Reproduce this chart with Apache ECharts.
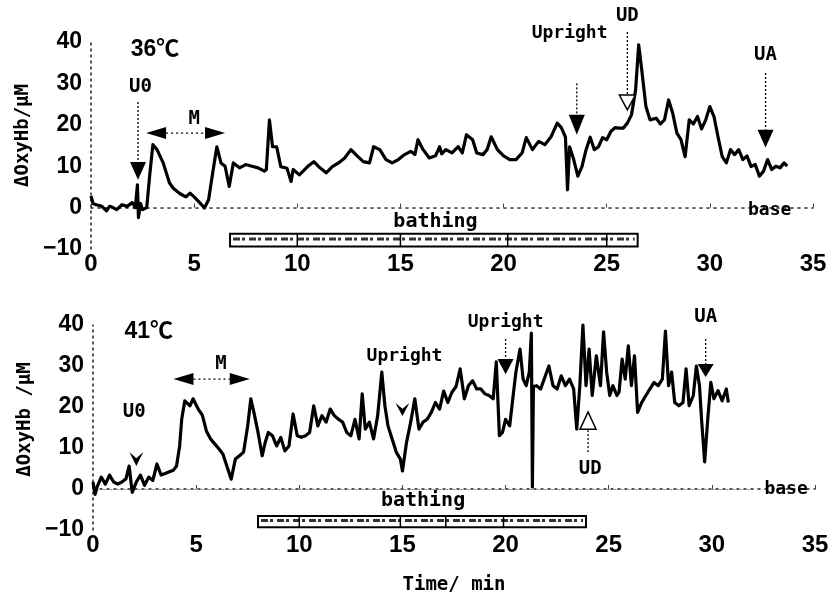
<!DOCTYPE html>
<html>
<head>
<meta charset="utf-8">
<script src="https://cdn.jsdelivr.net/npm/echarts@6/dist/echarts.min.js"></script>
<style>
  html, body { margin: 0; padding: 0; background: #fff; }
  #main { width: 834px; height: 605px; }
</style>
</head>
<body>
<div id="main"></div>
<script>
// time (min) and ΔOxyHb (μM)
const time36 = [0, 0.1, 0.25, 0.5, 0.75, 0.9, 1.0, 1.25, 1.5, 1.75, 2.0, 2.15, 2.25, 2.3, 2.4, 2.5, 2.7, 2.85, 3.0, 3.2,
  3.5, 3.8, 4.0, 4.3, 4.6, 4.8, 5.0, 5.3, 5.5, 5.7, 5.9, 6.1, 6.3, 6.5, 6.7, 6.9, 7.2, 7.5, 7.8, 8.1,
  8.4, 8.5, 8.65, 8.8, 9.0, 9.2, 9.5, 9.7, 9.8, 10.1, 10.5, 10.8, 11.1, 11.4, 11.7, 12.0, 12.3, 12.6, 12.9, 13.2,
  13.5, 13.7, 14.0, 14.3, 14.6, 14.9, 15.2, 15.5, 15.7, 15.85, 16.1, 16.4, 16.7, 16.9, 17.0, 17.2, 17.5, 17.8, 18.0, 18.2,
  18.5, 18.7, 19.0, 19.2, 19.4, 19.7, 20.0, 20.3, 20.6, 20.9, 21.1, 21.4, 21.7, 22.0, 22.3, 22.6, 22.8, 23.0, 23.1, 23.2,
  23.4, 23.6, 23.8, 24.0, 24.2, 24.4, 24.6, 24.8, 25.0, 25.2, 25.4, 25.6, 25.8, 26.0, 26.2, 26.4, 26.55, 26.7, 26.9, 27.1,
  27.4, 27.6, 27.8, 28.0, 28.2, 28.4, 28.6, 28.8, 29.0, 29.2, 29.4, 29.6, 29.8, 30.0, 30.2, 30.4, 30.6, 30.8, 31.0, 31.2,
  31.4, 31.6, 31.8, 32.0, 32.2, 32.4, 32.6, 32.8, 33.0, 33.2, 33.4, 33.6, 33.75];
const oxy36 = [2.8, 1.0, 0.7, 0.4, -0.8, 0.3, 0.2, -0.5, 0.7, 0.3, 1.2, 0.0, 5.5, -2.4, 1.0, -0.5, 0, 8, 15.2, 14,
  10.8, 6, 4.6, 3.4, 2.6, 3.5, 2.6, 1.0, -0.1, 1.9, 8.4, 14.7, 10.8, 10, 5.1, 10.8, 9.6, 10.4, 10, 9.6,
  8.8, 9.2, 21.2, 14.7, 14.7, 9.9, 9.5, 6.3, 9.2, 7.9, 9.9, 11.1, 9.6, 8.4, 9.9, 10.8, 12, 14, 12.5, 11.1,
  10.8, 14.7, 14, 11.6, 10.8, 11.6, 12.8, 13.6, 12.8, 16.4, 14, 12, 12.5, 14.7, 13, 14, 13.2, 14.7, 13.2, 17.6,
  16.4, 13.2, 12.8, 14, 17.1, 14, 12.5, 11.6, 11.6, 13.2, 16.9, 14, 16, 15.2, 17.1, 20.4, 19.3, 17, 4.3, 14.7,
  11.6, 7.6, 9.9, 14, 17, 14, 14.7, 16.9, 16.4, 18.4, 19.3, 19.2, 19.2, 20.4, 22.4, 28.4, 39.3, 33.2, 24.4, 21.2,
  21.6, 20.2, 21.2, 26, 22.8, 18, 16.4, 12.3, 21.2, 20.2, 22, 19, 21.2, 24.4, 22, 17, 12.3, 10.8, 14, 12.8,
  14, 11.6, 12.5, 9.9, 10.4, 7.6, 8.8, 11.6, 9.2, 10, 9.6, 10.8, 10];

const time41 = [0, 0.1, 0.2, 0.4, 0.6, 0.8, 1.0, 1.2, 1.4, 1.6, 1.75, 1.9, 2.1, 2.3, 2.5, 2.7, 2.9, 3.1, 3.3, 3.5,
  3.7, 3.9, 4.05, 4.2, 4.3, 4.45, 4.7, 4.85, 5.1, 5.3, 5.5, 5.7, 5.9, 6.1, 6.3, 6.5, 6.7, 6.9, 7.1, 7.3,
  7.5, 7.65, 7.8, 8.0, 8.2, 8.35, 8.5, 8.7, 8.9, 9.1, 9.3, 9.5, 9.7, 9.9, 10.1, 10.3, 10.5, 10.7, 10.9, 11.1,
  11.3, 11.5, 11.7, 11.9, 12.1, 12.3, 12.5, 12.7, 12.9, 13.05, 13.2, 13.4, 13.6, 13.8, 14.0, 14.15, 14.3, 14.5, 14.7, 14.9,
  15.0, 15.2, 15.4, 15.6, 15.8, 16.0, 16.2, 16.4, 16.6, 16.8, 17.0, 17.2, 17.4, 17.6, 17.8, 18.0, 18.2, 18.4, 18.6, 18.8,
  19.0, 19.2, 19.4, 19.55, 19.7, 19.85, 20.0, 20.2, 20.35, 20.5, 20.7, 20.85, 21.0, 21.15, 21.25, 21.3, 21.35, 21.5, 21.7, 21.9,
  22.1, 22.3, 22.5, 22.7, 22.9, 23.1, 23.3, 23.45, 23.6, 23.75, 23.9, 24.05, 24.2, 24.4, 24.6, 24.75, 24.9, 25.05, 25.2, 25.4,
  25.5, 25.65, 25.8, 25.95, 26.1, 26.25, 26.4, 26.6, 26.8, 27.0, 27.2, 27.4, 27.6, 27.75, 27.9, 28.05, 28.2, 28.4, 28.6, 28.75,
  28.9, 29.1, 29.25, 29.4, 29.5, 29.65, 29.8, 29.95, 30.1, 30.3, 30.5, 30.7, 30.8];
const oxy41 = [1.7, -1.3, 0.5, 2.9, 1.2, 3.4, 1.7, 1.2, 1.7, 2.5, 5.6, -0.8, 1.7, 3.4, 0.9, 2.9, 2.1, 6.1, 3.4, 3.8,
  4.2, 4.6, 5.6, 10.5, 17, 21.5, 20.3, 22, 19.5, 18, 14.1, 12.2, 11, 9.8, 8.5, 5.4, 2.4, 7.3, 8.1, 9,
  15.4, 22, 18.7, 13.8, 8.1, 11.4, 13.8, 13, 10.5, 12.6, 9.3, 10.5, 18.3, 13, 12.6, 13, 13.8, 20.3, 15.4, 17.9,
  16.3, 19.5, 17.9, 17, 16.3, 13.8, 13, 17, 12.2, 23.2, 14.6, 16.3, 12.2, 17.9, 28.5, 20.3, 15.4, 12.2, 9, 7.3,
  4.4, 11.4, 16.3, 22, 14.6, 16.3, 17, 18.7, 21.1, 19.5, 23.9, 21.1, 23.6, 25, 29.3, 22, 25.2, 26.4, 24.4, 24.4,
  23.2, 22.8, 22, 31, 13, 13.8, 17, 15.4, 22, 28.5, 34.1, 26.8, 25.2, 28.5, 38, 0.5, 25, 25.2, 24.4, 27.2,
  30, 25.2, 24.4, 27.6, 25.2, 26.8, 24.4, 14.6, 25.2, 40, 25.2, 34.1, 22.8, 32.5, 25.2, 38.3, 28.5, 22.8, 25.2, 22.8,
  23.6, 31.7, 26.8, 34.9, 25.2, 32.5, 18.7, 21.1, 22.8, 24.4, 26, 25.2, 26.8, 38.5, 25.2, 28.5, 21.1, 20.3, 21.1, 29.3,
  20.3, 22.8, 30, 25.2, 17, 6.6, 17, 26, 22, 24, 21.5, 24.4, 21.1];

const xTicks = [0, 5, 10, 15, 20, 25, 30, 35];
const yTicks = [-10, 0, 10, 20, 30, 40];

// annotations: text, time, value
const labels36 = [
  ['36℃', 3.1, 38.2, 'title'], ['U0', 2.4, 29, 'tag'], ['M', 5.0, 21.5, 'tag'],
  ['Upright', 23.2, 42.2, 'mono'], ['UD', 26.0, 46.3, 'tag'], ['UA', 32.7, 36.8, 'tag'],
  ['bathing', 16.7, -3.4, 'big'], ['base', 32.9, -0.6, 'mono']
];
const labels41 = [
  ['41℃', 2.7, 38.3, 'title'], ['U0', 2.0, 18.8, 'tag'], ['M', 6.2, 30.5, 'tag'],
  ['Upright', 15.1, 32.4, 'mono'], ['Upright', 20.0, 40.6, 'mono'], ['UD', 24.1, 4.9, 'tag'],
  ['UA', 29.7, 42, 'tag'], ['bathing', 16.0, -2.9, 'big'], ['base', 33.6, 0, 'mono']
];
// arrows: x, dotted stem start (or null), head base, head tip, kind
const arrows36 = [
  { x: 2.28, from: 25.5, base: 11, tip: 6.7, kind: 'solid' },
  { x: 23.55, from: 30, base: 22.4, tip: 17.6, kind: 'solid' },
  { x: 26.0, from: 42.4, base: 27.2, tip: 23.6, kind: 'hollow' },
  { x: 32.7, from: 32.5, base: 18.8, tip: 14.5, kind: 'solid' }
];
const arrows41 = [
  { x: 2.1, from: null, base: 9, tip: 5.6, kind: 'chevron' },
  { x: 15.0, from: null, base: 21, tip: 17.8, kind: 'chevron' },
  { x: 20.0, from: 36.6, base: 31.7, tip: 28, kind: 'solid' },
  { x: 24.0, from: 9, base: 14.6, tip: 18.8, kind: 'hollow' },
  { x: 29.7, from: 36.6, base: 30.5, tip: 27.3, kind: 'solid' }
];
// "M" double arrows: left tip, right tip, value
const spans36 = [[2.67, 6.5, 18]];
const spans41 = [[3.9, 7.6, 26.8]];
// bathing bars: start, end, bottom, top, dividers
const bath36 = [[6.74, 26.5, -9.4, -6.3, [10, 15, 20.2, 25]]];
const bath41 = [[8.0, 23.9, -9.3, -6.6, [10, 14.9, 17.1, 19.9]]];
const base36 = [2.7, 32];
const base41 = [0.5, 32];

const zip = (xs, ys) => xs.map((x, i) => [x, ys[i]]);

const fonts = {
  title: 'bold 23px "Liberation Sans", "Noto Sans CJK JP", sans-serif',
  tag: 'bold 19px "DejaVu Sans Mono", monospace',
  mono: 'bold 18px "DejaVu Sans Mono", monospace',
  big: 'bold 20px "DejaVu Sans Mono", monospace'
};

function textSeries(list, idx) {
  return {
    type: 'custom', xAxisIndex: idx, yAxisIndex: idx, z: 10, silent: true,
    data: list.map(l => [l[1], l[2]]),
    renderItem: (params, api) => {
      const l = list[params.dataIndex];
      const p = api.coord([l[1], l[2]]);
      return { type: 'text', style: { text: l[0], x: p[0], y: p[1], font: fonts[l[3]], fill: '#000', align: 'center', verticalAlign: 'middle' } };
    }
  };
}

function arrowSeries(list, idx) {
  return {
    type: 'custom', xAxisIndex: idx, yAxisIndex: idx, z: 9, silent: true,
    data: list.map(a => [a.x, a.tip]),
    renderItem: (params, api) => {
      const a = list[params.dataIndex];
      const tip = api.coord([a.x, a.tip]);
      const base = api.coord([a.x, a.base]);
      const half = a.kind === 'chevron' ? 7 : 8;
      const children = [];
      if (a.from != null) {
        const s = api.coord([a.x, a.from]);
        children.push({ type: 'line', shape: { x1: s[0], y1: s[1], x2: base[0], y2: base[1] },
          style: { stroke: '#000', lineWidth: 1.3, lineDash: [2, 2] } });
      }
      let pts;
      if (a.kind === 'chevron') {
        const notch = base[1] + (tip[1] - base[1]) * 0.45;
        pts = [[base[0] - half, base[1]], [tip[0], tip[1]], [base[0] + half, base[1]], [base[0], notch]];
      } else {
        pts = [[base[0] - half, base[1]], [tip[0], tip[1]], [base[0] + half, base[1]]];
      }
      children.push({ type: 'polygon', shape: { points: pts },
        style: a.kind === 'hollow' ? { fill: '#fff', stroke: '#000', lineWidth: 1.5 } : { fill: '#000' } });
      return { type: 'group', children };
    }
  };
}

function spanSeries(list, idx) {
  return {
    type: 'custom', xAxisIndex: idx, yAxisIndex: idx, z: 9, silent: true,
    data: list.map(m => [m[0], m[2]]),
    renderItem: (params, api) => {
      const m = list[params.dataIndex];
      const L = api.coord([m[0], m[2]]);
      const R = api.coord([m[1], m[2]]);
      const len = 20, h = 6;
      return { type: 'group', children: [
        { type: 'polygon', shape: { points: [L, [L[0] + len, L[1] - h], [L[0] + len, L[1] + h]] }, style: { fill: '#000' } },
        { type: 'polygon', shape: { points: [R, [R[0] - len, R[1] - h], [R[0] - len, R[1] + h]] }, style: { fill: '#000' } },
        { type: 'line', shape: { x1: L[0] + len, y1: L[1], x2: R[0] - len, y2: R[1] }, style: { stroke: '#000', lineWidth: 1.3, lineDash: [2, 3] } }
      ] };
    }
  };
}

function bathSeries(list, idx) {
  return {
    type: 'custom', xAxisIndex: idx, yAxisIndex: idx, z: 8, silent: true,
    data: list.map(b => [b[0], b[2]]),
    renderItem: (params, api) => {
      const b = list[params.dataIndex];
      const p0 = api.coord([b[0], b[3]]);
      const p1 = api.coord([b[1], b[2]]);
      const mid = (p0[1] + p1[1]) / 2;
      const children = [
        { type: 'rect', shape: { x: p0[0], y: p0[1], width: p1[0] - p0[0], height: p1[1] - p0[1] },
          style: { fill: '#fff', stroke: '#000', lineWidth: 2 } },
        { type: 'line', shape: { x1: p0[0] + 3, y1: mid - 1, x2: p1[0] - 3, y2: mid - 1 },
          style: { stroke: '#333', lineWidth: 3, lineDash: [7, 2, 3, 4] } }
      ];
      b[4].forEach(d => {
        const q = api.coord([d, b[2]]);
        children.push({ type: 'line', shape: { x1: q[0], y1: p0[1], x2: q[0], y2: p1[1] }, style: { stroke: '#000', lineWidth: 1.5 } });
      });
      return { type: 'group', children };
    }
  };
}

function lineSeries(xs, ys, base, idx) {
  return {
    type: 'line', xAxisIndex: idx, yAxisIndex: idx, z: 5,
    data: zip(xs, ys), showSymbol: false, clip: false, silent: true,
    lineStyle: { color: '#000', width: 3.2, join: 'round' },
    markLine: {
      silent: true, symbol: 'none', label: { show: false },
      lineStyle: { color: '#777', type: [2, 5], width: 1.2 },
      data: [[{ coord: [base[0], 0] }, { coord: [base[1], 0] }]]
    }
  };
}

const tickFont = '"Liberation Sans", sans-serif';
function xAxis(idx, withName) {
  return {
    type: 'value', gridIndex: idx, min: xTicks[0], max: xTicks[xTicks.length - 1], interval: 5,
    axisLine: { lineStyle: { color: '#222', type: [2, 5], width: 1.5 } },
    axisTick: { inside: true, length: 4, lineStyle: { color: '#444' } },
    splitLine: { show: false },
    axisLabel: { color: '#000', fontSize: 24, fontWeight: 'bold', fontFamily: tickFont, margin: 3 },
    name: withName ? 'Time/ min' : '', nameLocation: 'middle', nameGap: 46,
    nameTextStyle: { color: '#000', fontSize: 19, fontWeight: 'bold', fontFamily: '"DejaVu Sans Mono", monospace' }
  };
}
function yAxis(idx, name, pad) {
  return {
    type: 'value', gridIndex: idx, min: yTicks[0], max: yTicks[yTicks.length - 1], interval: 10,
    axisLine: { show: true, lineStyle: { color: '#222', type: [2, 4], width: 1.5 } },
    axisTick: { show: false },
    splitLine: { show: false },
    axisLabel: { color: '#000', fontSize: 23, fontWeight: 'bold', fontFamily: tickFont, margin: 9,
      formatter: v => String(v).replace('-', '−') },
    name: name, nameLocation: 'middle', nameGap: 48, nameRotate: 90,
    nameTextStyle: { color: '#000', fontSize: 19, fontWeight: 'bold', fontFamily: '"DejaVu Sans Mono", monospace', padding: [0, 0, 0, pad] }
  };
}

const chart = echarts.init(document.getElementById('main'), null, { renderer: 'canvas' });
chart.setOption({
  animation: false,
  backgroundColor: '#fff',
  grid: [
    { left: 91, right: 21, top: 42, height: 207 },
    { left: 93, right: 19, top: 325, height: 205 }
  ],
  xAxis: [xAxis(0, false), xAxis(1, true)],
  yAxis: [yAxis(0, 'ΔOxyHb/μM', 20), yAxis(1, 'ΔOxyHb /μM', 16)],
  series: [
    bathSeries(bath36, 0), bathSeries(bath41, 1),
    lineSeries(time36, oxy36, base36, 0), lineSeries(time41, oxy41, base41, 1),
    arrowSeries(arrows36, 0), arrowSeries(arrows41, 1),
    spanSeries(spans36, 0), spanSeries(spans41, 1),
    textSeries(labels36, 0), textSeries(labels41, 1)
  ]
});
</script>
</body>
</html>
